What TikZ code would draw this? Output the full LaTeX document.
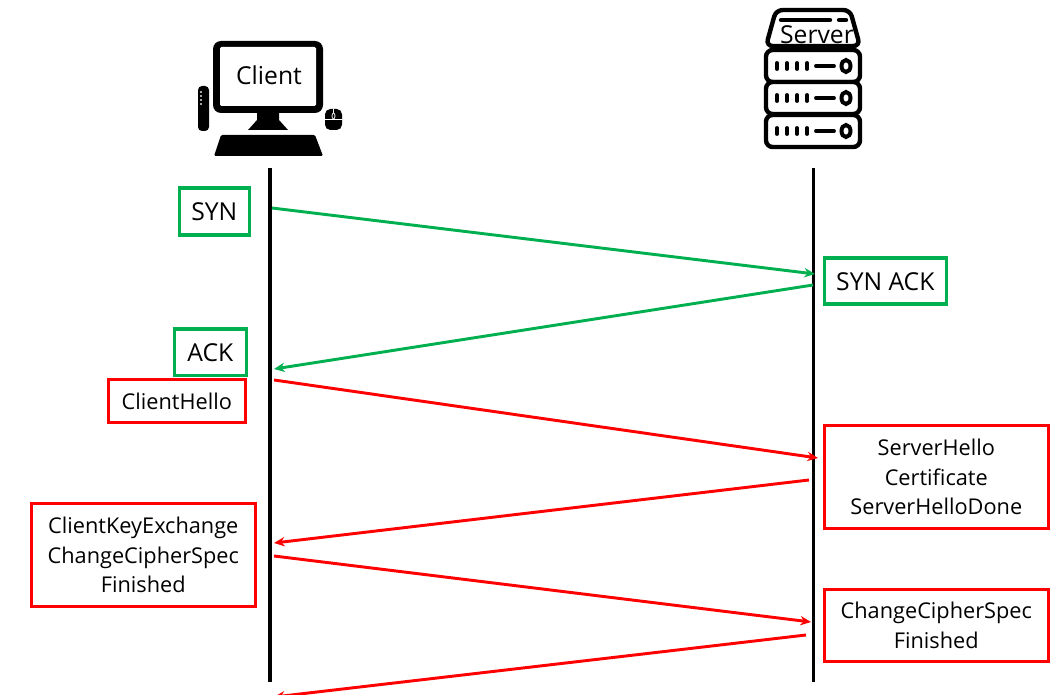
\documentclass[tikz,border=0pt]{standalone}
\usepackage{fontspec}
\setmainfont{Open Sans}
\usetikzlibrary{arrows.meta}
\definecolor{msgGreen}{RGB}{0,176,80}
\definecolor{msgRed}{RGB}{255,0,0}
\tikzset{
  msgbox/.style={draw, line width=2.7pt, fill=white, inner sep=0pt, align=center, anchor=north west, text depth=0pt},
  greenbox/.style={msgbox, draw=msgGreen, font=\fontsize{18.5}{22}\selectfont},
  redbox/.style={msgbox, draw=msgRed, font=\fontsize{16.3}{22.4}\selectfont},
  lifeline/.style={line width=2.3pt, black},
  greenarrow/.style={line width=2.2pt, msgGreen, -{Stealth[length=8pt,width=7pt]}},
  redarrow/.style={line width=2.2pt, msgRed, -{Stealth[length=8pt,width=7pt]}},
  slot/.style={line width=2.9pt, line cap=round, black},
  rack/.style={draw=black, line width=3.3pt, rounded corners=5pt, fill=white},
}
\begin{document}
\begin{tikzpicture}[x=0.75pt,y=-0.75pt]
\useasboundingbox (0,0) rectangle (1064,695);
\clip (0,0) rectangle (1064,695);

% --- client icon ---
\fill[black, rounded corners=6pt] (213,41) rectangle (323,113);
\fill[white, rounded corners=1pt] (220,47) rectangle (316,106);
\fill[black] (257,112) -- (279,112) -- (279,120) -- (288,130) -- (248,130) -- (257,120) -- cycle;
\fill[black, rounded corners=1pt] (221,135) -- (315,135) -- (323,156) -- (214,156) -- cycle;
\fill[black, rounded corners=3pt] (198,86) rectangle (209,131);
\fill[black, rounded corners=4pt] (325,109) rectangle (342,130);
\draw[white, line width=0.6pt] (325,119) -- (342,119);
\draw[white, line width=0.6pt] (333.5,109) -- (333.5,113);
\draw[white, line width=0.6pt] (333.5,116) ellipse (1.5 and 3);
\foreach \yy in {91,95,99,103} \fill[gray!70] (200,\yy) rectangle (202,\yy+2);
\node (clientlabel) at (269,75) {\fontsize{18.5}{22}\selectfont Client};

% --- server icon ---
\draw[rack] (776,10) -- (850,10) -- (860,46) -- (766,46) -- cycle;
\draw[line width=3.3pt, line cap=round] (781,20) -- (830,20);
\draw[line width=3.3pt, line cap=round] (839,20) -- (846,20);
\foreach \ty in {50,82,115}{
  \draw[rack] (766,\ty) rectangle (860,\ty+32);
  \foreach \tx in {777,787,797,807}
    \draw[slot] (\tx,\ty+13) -- (\tx,\ty+19);
  \draw[slot] (816,\ty+16) -- (834,\ty+16);
  \draw[line width=3pt] (846,\ty+16) ellipse (4.5 and 6);
}
\node (serverlabel) at (817,35) {\fontsize{18.5}{22}\selectfont Server};

% --- lifelines ---
\coordinate (ctop) at (270,168);
\coordinate (cbot) at (270,682);
\coordinate (stop) at (813.5,168);
\coordinate (sbot) at (813.5,682);
\draw[lifeline] (ctop) -- (cbot);
\draw[lifeline] (stop) -- (sbot);

% --- message boxes ---
\node[greenbox, minimum width=70pt*0.75, minimum height=47pt*0.75] (syn) at (177.5,186.5) {SYN};
\node[greenbox, minimum width=122pt*0.75, minimum height=46pt*0.75] (synack) at (822.5,256.5) {SYN ACK};
\node[greenbox, minimum width=72pt*0.75, minimum height=46pt*0.75] (ack) at (172.5,327.5) {ACK};
\node[redbox, minimum width=137pt*0.75, minimum height=43pt*0.75] (chello) at (106.5,377.5) {ClientHello};
\node[redbox, minimum width=224pt*0.75, minimum height=103pt*0.75] (shello) at (822.5,423.5) {ServerHello\\Certificate\\ServerHelloDone};
\node[redbox, minimum width=224pt*0.75, minimum height=103pt*0.75] (ckey) at (29.5,501.5) {ClientKeyExchange\\ChangeCipherSpec\\Finished};
\node[redbox, minimum width=224pt*0.75, minimum height=72pt*0.75] (sccs) at (822.5,587.5) {ChangeCipherSpec\\Finished};

% --- message arrows ---
\coordinate (a1s) at (272,208);  \coordinate (a1e) at (815,274);
\coordinate (a2s) at (813,285);  \coordinate (a2e) at (274,369);
\coordinate (a3s) at (274,380);  \coordinate (a3e) at (818,458);
\coordinate (a4s) at (809,480);  \coordinate (a4e) at (274,543);
\coordinate (a5s) at (274,556);  \coordinate (a5e) at (811,622);
\coordinate (a6s) at (806,635);  \coordinate (a6e) at (274,697);
\draw[greenarrow] (a1s) -- (a1e);
\draw[greenarrow] (a2s) -- (a2e);
\draw[redarrow] (a3s) -- (a3e);
\draw[redarrow] (a4s) -- (a4e);
\draw[redarrow] (a5s) -- (a5e);
\draw[redarrow] (a6s) -- (a6e);
\end{tikzpicture}
\end{document}
